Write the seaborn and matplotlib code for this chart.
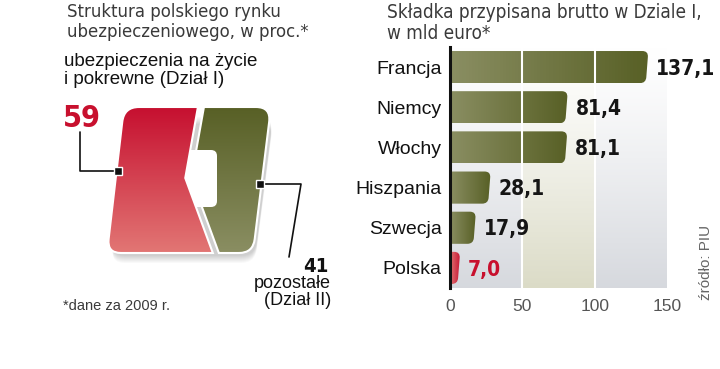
import numpy as np
import pandas as pd
import matplotlib
matplotlib.use('Agg')
import matplotlib.pyplot as plt
import seaborn as sns
from matplotlib.path import Path
from matplotlib.patches import PathPatch
from matplotlib import font_manager
from matplotlib.font_manager import FontProperties

# ----------------------------------------------------------------------------
# Data
# ----------------------------------------------------------------------------
countries = ['Francja', 'Niemcy', 'Włochy', 'Hiszpania', 'Szwecja', 'Polska']
premium = [137.1, 81.4, 81.1, 28.1, 17.9, 7.0]
value_labels = ['137,1', '81,4', '81,1', '28,1', '17,9', '7,0']
x_ticks = [0, 50, 100, 150]

share_life = 59     # Dział I
share_other = 41    # Dział II

# ----------------------------------------------------------------------------
# Style
# ----------------------------------------------------------------------------
sns.set_theme(style='white')
plt.rcParams['font.family'] = ['Liberation Sans', 'DejaVu Sans']


def narrow_font(bold, size):
    """Look for any installed condensed / narrow face, fall back to Liberation Sans."""
    want = 700 if bold else 400
    found = []
    for f in font_manager.fontManager.ttflist:
        narrow = ('Narrow' in f.name or 'Condensed' in f.name
                  or str(f.stretch) in ('condensed', 'semi-condensed', 'extra-condensed'))
        if not narrow or f.style != 'normal':
            continue
        wt = f.weight if isinstance(f.weight, int) else font_manager.weight_dict.get(f.weight, 400)
        found.append((abs(wt - want), 'Liberation' not in f.name, f.fname))
    if found:
        found.sort()
        if found[0][0] <= 100:
            return FontProperties(fname=found[0][2], size=size)
    return FontProperties(family='Liberation Sans', weight='bold' if bold else 'normal', size=size)


RED = '#c8102e'
OLIVE_D = np.array([88, 96, 38]) / 255
OLIVE_L = np.array([138, 142, 98]) / 255
RED_D = np.array([198, 16, 48]) / 255
RED_L = np.array([226, 118, 116]) / 255
GREY_TXT = '#3a3a3a'


def rounded_path(pts, radii, sx=1.0, sy=1.0):
    """Polygon with rounded corners (radius in pixel units)."""
    p = np.asarray(pts, float) * [sx, sy]
    n = len(p)
    verts, codes = [], []
    for i in range(n):
        c, prv, nxt = p[i], p[i - 1], p[(i + 1) % n]
        r = radii[i]
        if r <= 0:
            verts.append(c)
            codes.append(Path.MOVETO if i == 0 else Path.LINETO)
            continue
        a = c + (prv - c) / np.linalg.norm(prv - c) * r
        b = c + (nxt - c) / np.linalg.norm(nxt - c) * r
        verts += [a, c, b]
        codes += [Path.MOVETO if i == 0 else Path.LINETO, Path.CURVE3, Path.CURVE3]
    verts.append(verts[0])
    codes.append(Path.CLOSEPOLY)
    return Path(np.array(verts) / [sx, sy], codes)


def gradient(c0, c1, n=64, horizontal=False):
    t = np.linspace(0, 1, n)[:, None]
    g = c0[None, :] * (1 - t) + c1[None, :] * t
    g = g[None, :, :] if horizontal else g[:, None, :]
    return g


fig = plt.figure(figsize=(7.2, 3.69), dpi=100)

# ----------------------------------------------------------------------------
# Left panel: market structure (pixel coordinates)
# ----------------------------------------------------------------------------
ax0 = fig.add_axes([0, 0, 1, 1])
ax0.set_xlim(0, 720)
ax0.set_ylim(369, 0)
ax0.axis('off')
ax0.patch.set_visible(False)

top, bot = 107, 253
tl, tr, br, bl = 124, 271, 253, 107
w = tr - tl
s = share_life / 100
split_top = tl + w * (s - 0.087)
split_bot = bl + w * (s + 0.13)
notch_y = 178
left_at_notch = tl - (notch_y - top) / (bot - top) * (tl - bl)
split_mid = left_at_notch + w * (s - 0.117)
gap = 6

# soft shadow
for k in range(8):
    sh = rounded_path([(tl + 4, top + 10 + k), (tr + 2, top + 10 + k),
                       (br + 2, bot + 3 + k), (bl + 4, bot + 3 + k)], [14] * 4)
    ax0.add_patch(PathPatch(sh, facecolor='#000000', edgecolor='none', alpha=0.025, zorder=1))

olive_path = rounded_path([(split_top + gap, top), (tr, top), (br, bot),
                           (split_bot + gap, bot), (split_mid + gap, notch_y)],
                          [0, 15, 14, 0, 0])
olive_patch = PathPatch(olive_path, facecolor='none', edgecolor='white', lw=1.5, zorder=3)
ax0.add_patch(olive_patch)
im = ax0.imshow(gradient(OLIVE_D, OLIVE_L), extent=(bl, tr, bot, top),
                aspect='auto', zorder=2)
im.set_clip_path(olive_patch)

notch = rounded_path([(split_mid - 3, 150), (217, 150), (217, 207), (split_mid - 3, 207)],
                     [0, 6, 6, 0])
ax0.add_patch(PathPatch(notch, facecolor='white', edgecolor='none', zorder=4))

red_path = rounded_path([(tl, top), (split_top, top), (split_mid, notch_y),
                         (split_bot, bot), (bl, bot)], [15, 0, 0, 0, 14])
red_patch = PathPatch(red_path, facecolor='none', edgecolor='white', lw=1.5, zorder=6)
ax0.add_patch(red_patch)
im = ax0.imshow(gradient(RED_D, RED_L), extent=(bl, tr, bot, top),
                aspect='auto', zorder=5)
im.set_clip_path(red_patch)

# leader lines
ax0.plot([80, 80, 116], [132, 171, 171], color='#111111', lw=1.2, zorder=7)
ax0.plot([118], [171], marker='s', ms=6, color='#111111', mec='white', mew=1, zorder=8)
ax0.plot([262, 301, 289], [184, 184, 257], color='#111111', lw=1.2, zorder=7)
ax0.plot([260], [184], marker='s', ms=6, color='#111111', mec='white', mew=1, zorder=8)

ax0.text(67, 3, 'Struktura polskiego rynku\nubezpieczeniowego, w proc.*',
         fontproperties=narrow_font(False, 13.2), color=GREY_TXT, va='top', ha='left',
         linespacing=1.15)
ax0.text(64, 53, 'ubezpieczenia na życie\ni pokrewne (Dział I)',
         fontsize=13.5, color='#111111', va='top', ha='left', linespacing=1.05)
ax0.text(63, 127, f'{share_life}', fontproperties=narrow_font(True, 22),
         color=RED, va='baseline', ha='left')
ax0.text(328, 272, f'{share_other}', fontproperties=narrow_font(True, 14.5),
         color='#111111', va='baseline', ha='right')
ax0.text(331, 275, 'pozostałe\n(Dział II)', fontsize=13, color='#111111',
         va='top', ha='right', linespacing=1.0)
ax0.text(63, 310, '*dane za 2009 r.', fontsize=10.5, color=GREY_TXT,
         va='baseline', ha='left')

# ----------------------------------------------------------------------------
# Right panel: gross written premium, life insurance
# ----------------------------------------------------------------------------
ax = fig.add_axes([450 / 720, 1 - 288 / 369, 217 / 720, 241 / 369])
df = pd.DataFrame({'country': countries, 'premium': premium})
sns.barplot(data=df, x='premium', y='country', orient='h', color='#6b7035',
            width=0.8, ax=ax, zorder=2)

# background gradient with beige band between 50 and 100
ny, nx = 100, 150
t = np.linspace(0, 1, ny)[:, None, None] ** 1.2
xs = np.arange(nx)[None, :, None]
grey = np.array([0.84, 0.85, 0.87])
beige = np.array([0.86, 0.86, 0.78])
band = ((xs >= 50) & (xs < 100)).astype(float)
base = np.ones(3) * (1 - t) + (grey * (1 - band) + beige * band) * t
ax.imshow(base, extent=(0, 150, 5.5, -0.5), aspect='auto', zorder=0)

# pixel scale for rounding
px_x = 217 / 150
px_y = 241 / 6
val_fp = narrow_font(True, 15)
for i, bar in enumerate(list(ax.patches)):
    x0, y0 = bar.get_x(), bar.get_y()
    bw, bh = bar.get_width(), bar.get_height()
    bar.set_visible(False)
    slant = 2.5 / px_x
    pts = [(x0, y0), (x0 + bw, y0), (x0 + bw - slant, y0 + bh), (x0, y0 + bh)]
    path = rounded_path(pts, [0, 6, 6, 0], sx=px_x, sy=px_y)
    pp = PathPatch(path, facecolor='none', edgecolor='none', zorder=2)
    ax.add_patch(pp)
    c0, c1 = (RED_L, RED_D) if countries[i] == 'Polska' else (OLIVE_L, OLIVE_D)
    g = ax.imshow(gradient(c0, c1, horizontal=True), extent=(x0, x0 + bw, y0 + bh, y0),
                  aspect='auto', zorder=2)
    g.set_clip_path(pp)
    ax.text(x0 + bw + 5.5, i + 0.04, value_labels[i], fontproperties=val_fp,
            color=RED if countries[i] == 'Polska' else '#151515',
            va='center', ha='left', clip_on=False, zorder=8)

ax.set_xlim(0, 150)
ax.set_ylim(5.5, -0.5)

for xv in x_ticks[1:3]:
    ax.axvline(xv, color='white', lw=1.5, zorder=3)

ax.set_xticks(x_ticks)
ax.set_xticklabels([str(v) for v in x_ticks])
ax.tick_params(axis='x', length=0, pad=8, labelsize=12.5, labelcolor='#555555')
ax.tick_params(axis='y', length=0, pad=6, labelsize=14, labelcolor='#111111')
ax.set_xlabel('')
ax.set_ylabel('')
for side in ['top', 'right', 'bottom']:
    ax.spines[side].set_visible(False)
ax.spines['left'].set_color('#111111')
ax.spines['left'].set_linewidth(2.2)
ax.spines['left'].set_zorder(5)

fig.text(387 / 720, 1 - 3 / 369, 'Składka przypisana brutto w Dziale I,\nw mld euro*',
         fontproperties=narrow_font(False, 13.6), color=GREY_TXT, va='top', ha='left',
         linespacing=1.15)
fig.text(706 / 720, 1 - 300 / 369, 'źródło: PIU', rotation=90, fontsize=11,
         color='#666666', va='bottom', ha='center')

fig.savefig('out.png', dpi=100)
